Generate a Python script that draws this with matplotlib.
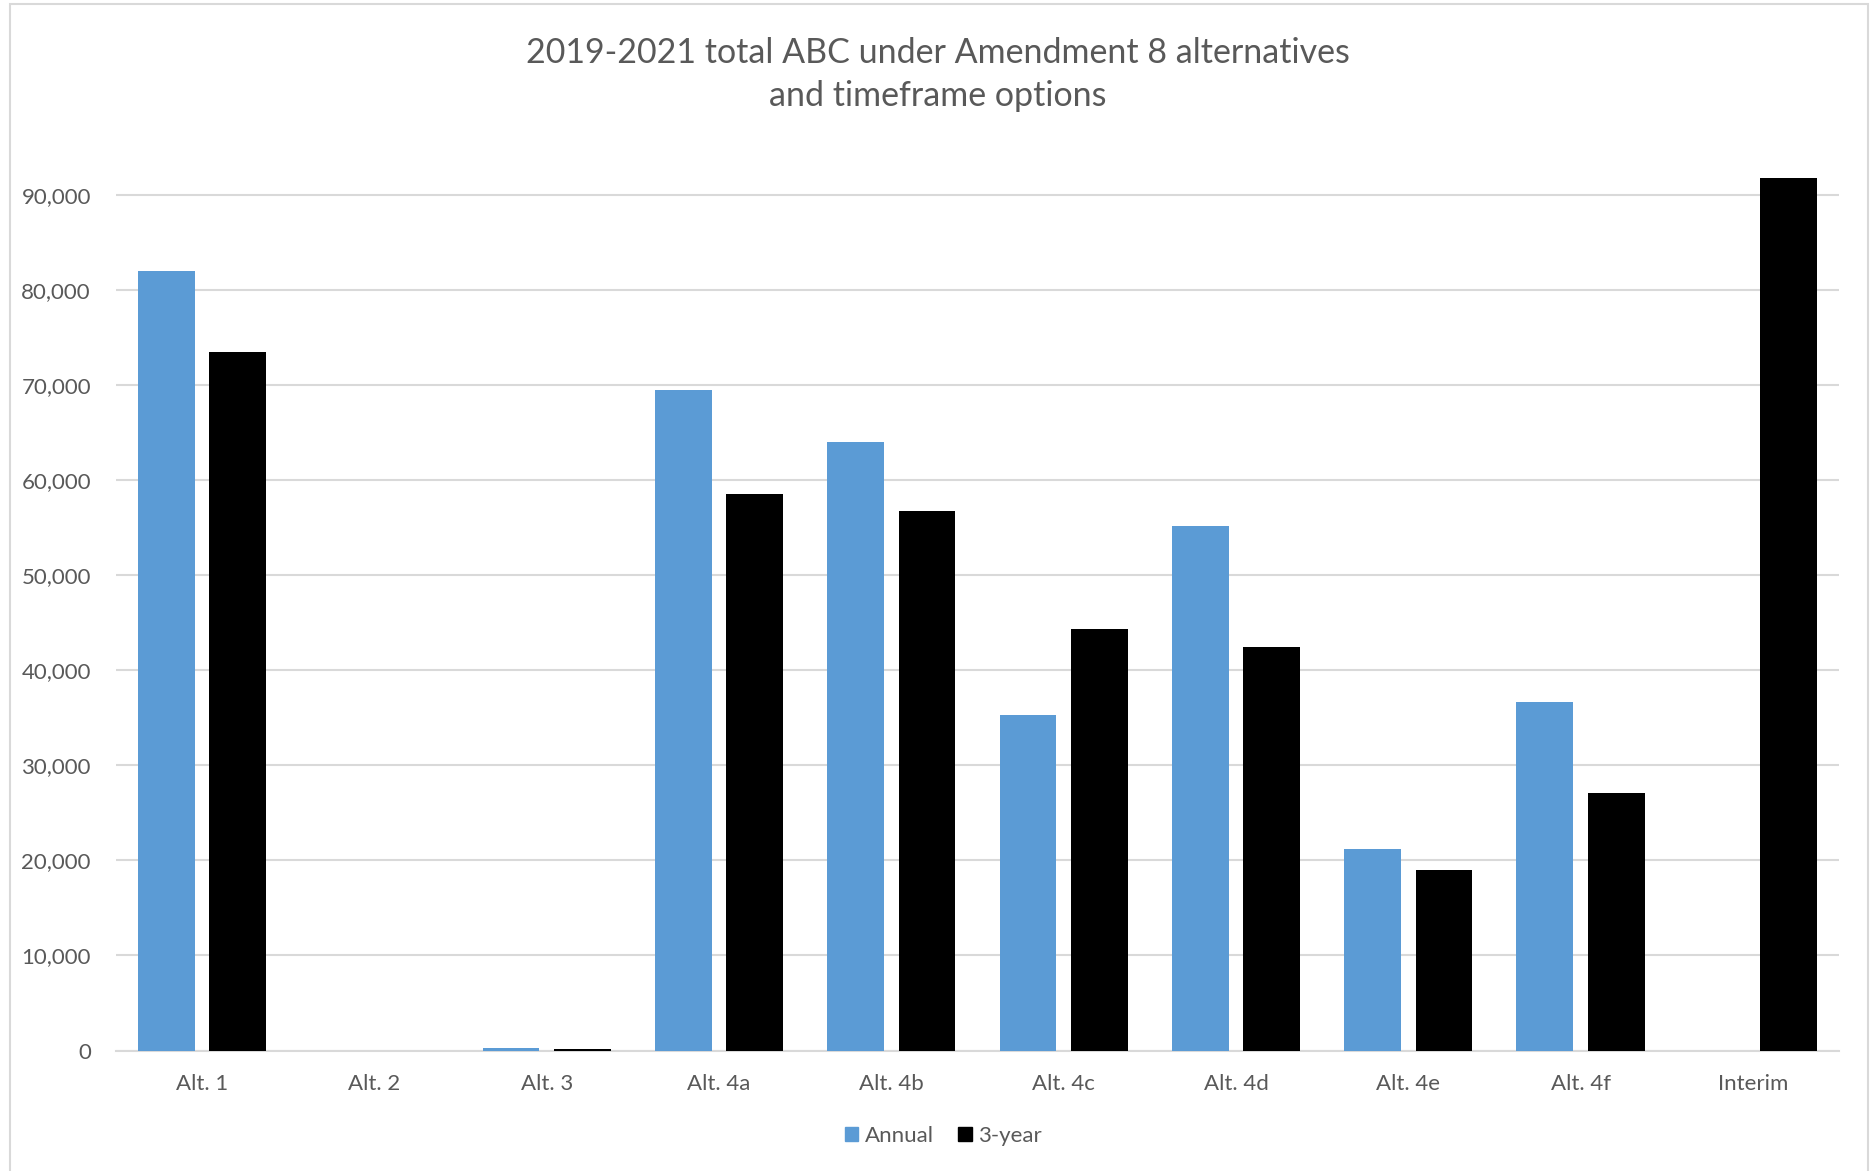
import numpy as np
import matplotlib.pyplot as plt
from matplotlib.patches import Rectangle, Patch
from matplotlib.ticker import FuncFormatter

categories = ['Alt. 1', 'Alt. 2', 'Alt. 3', 'Alt. 4a', 'Alt. 4b', 'Alt. 4c',
              'Alt. 4d', 'Alt. 4e', 'Alt. 4f', 'Interim']
annual = [82000, 0, 250, 69500, 64000, 35300, 55200, 21200, 36700, 0]
three_year = [73500, 0, 150, 58500, 56800, 44300, 42400, 19000, 27100, 91800]

plt.rcParams['font.family'] = ['Lato', 'DejaVu Sans']
grey = '#595959'

fig = plt.figure(figsize=(18.76, 11.71), dpi=100)
ax = fig.add_axes([0.0618, 0.1029, 0.9185, 0.755])

x = np.arange(len(categories))
w = 0.33
ax.bar(x - 0.207, annual, w, color='#5B9BD5', label='Annual', zorder=3)
ax.bar(x + 0.207, three_year, w, color='black', label='3-year', zorder=3)

ax.set_xlim(-0.5, len(categories) - 0.5)
ax.set_ylim(0, 93000)
ax.set_yticks(np.arange(0, 90001, 10000))
ax.yaxis.set_major_formatter(FuncFormatter(lambda v, p: f'{int(v):,}'))
ax.set_xticks(x)
ax.set_xticklabels(categories)
ax.grid(axis='y', color='#d9d9d9', linewidth=1.5, zorder=0)
for s in ['top', 'right', 'left']:
    ax.spines[s].set_visible(False)
ax.spines['bottom'].set_color('#d9d9d9')
ax.spines['bottom'].set_linewidth(1.5)
ax.tick_params(axis='both', length=0, labelsize=16, colors=grey)
ax.tick_params(axis='y', pad=18)
ax.tick_params(axis='x', pad=17)

fig.text(0.5, 0.968, '2019-2021 total ABC under Amendment 8 alternatives\nand timeframe options',
         ha='center', va='top', fontsize=24.5, color=grey, linespacing=1.42)

handles = [Patch(color='#5B9BD5', label='Annual'), Patch(color='black', label='3-year')]
fig.legend(handles=handles, loc='center', bbox_to_anchor=(0.503, 0.03), ncol=2,
           frameon=False, fontsize=16, labelcolor=grey, handlelength=0.6,
           handleheight=0.6, handletextpad=0.3, columnspacing=1.1)

# chart border
fig.patches.append(Rectangle((10 / 1876, -0.05), 1858 / 1876, 1.05 - 4 / 1171,
                             transform=fig.transFigure, fill=False,
                             edgecolor='#d9d9d9', linewidth=1.5))

plt.savefig('out.png', dpi=100)
